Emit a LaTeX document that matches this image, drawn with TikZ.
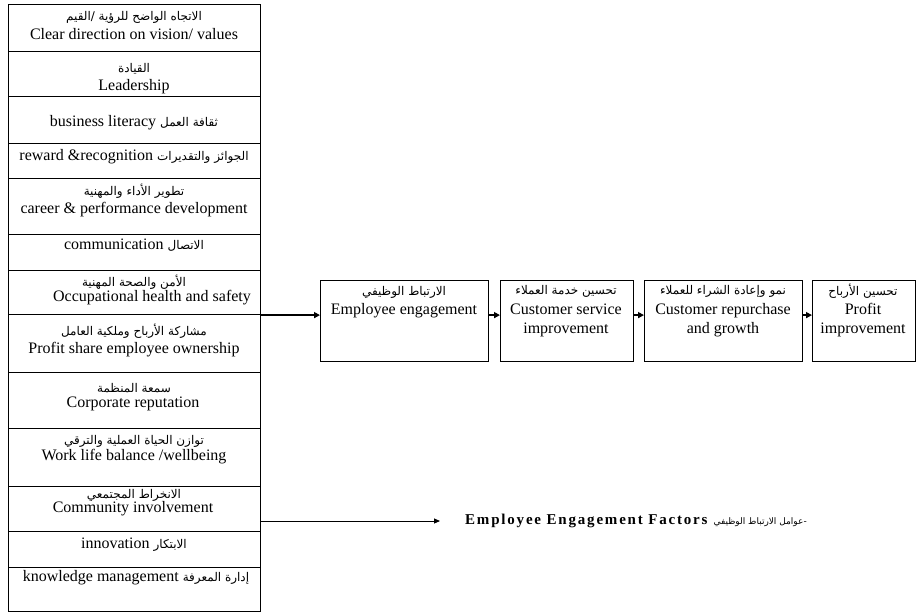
\documentclass[tikz,border=0pt]{standalone}
\usepackage{fontspec}
\setmainfont{Liberation Serif}
\newfontfamily\arfont[Script=Arabic]{DejaVu Sans}
\TeXXeTstate=1
\usetikzlibrary{arrows.meta}
\newcommand\AR[1]{{\arfont\fontsize{12}{13}\selectfont\beginR #1\endR}}
\begin{document}
\begin{tikzpicture}[x=1pt,y=-1pt,
  rowbox/.style={draw, line width=1.1pt, minimum width=252pt, inner sep=0pt, anchor=north west},
  en/.style={font=\fontsize{16}{19}\selectfont, inner sep=0pt},
  arl/.style={inner sep=0pt},
  box/.style={draw, line width=1.2pt, minimum height=81pt, inner sep=0pt, anchor=north west},
  bigarr/.style={-{Triangle[length=6pt,width=6pt]}, line width=1.6pt},
  thinarr/.style={-{Triangle[length=6pt,width=5pt]}, line width=0.9pt}]
\useasboundingbox (0,0) rectangle (917,612);
% left column rows
\node[rowbox, minimum height=47pt] (r1) at (8,4) {};
\node[rowbox, minimum height=45pt] (r2) at (8,51) {};
\node[rowbox, minimum height=47pt] (r3) at (8,96) {};
\node[rowbox, minimum height=35pt] (r4) at (8,143) {};
\node[rowbox, minimum height=56pt] (r5) at (8,178) {};
\node[rowbox, minimum height=36pt] (r6) at (8,234) {};
\node[rowbox, minimum height=44pt] (r7) at (8,270) {};
\node[rowbox, minimum height=58pt] (r8) at (8,314) {};
\node[rowbox, minimum height=56pt] (r9) at (8,372) {};
\node[rowbox, minimum height=58pt] (r10) at (8,428) {};
\node[rowbox, minimum height=45pt] (r11) at (8,486) {};
\node[rowbox, minimum height=36pt] (r12) at (8,531) {};
\node[rowbox, minimum height=44pt] (r13) at (8,567) {};
% row texts
\node[arl] (a1) at (134,17) {\AR{الاتجاه الواضح للرؤية /القيم}};
\node[en] (e1) at (134,34) {Clear direction on vision/ values};
\node[arl] (a2) at (134,69) {\AR{القيادة}};
\node[en] (e2) at (134,87) {Leadership};
\node[en] (e3) at (134,123) {business literacy \AR{ثقافة العمل}};
\node[en] (e4) at (134,157) {reward \&recognition \AR{الجوائز والتقديرات}};
\node[arl] (a5) at (134,191) {\AR{تطوير الأداء والمهنية}};
\node[en] (e5) at (134,210) {career \& performance development};
\node[en] (e6) at (134,245) {communication \AR{الاتصال}};
\node[arl] (a7) at (134,282) {\AR{الأمن والصحة المهنية}};
\node[en] (e7) at (152,298) {Occupational health and safety};
\node[arl] (a8) at (134,331) {\AR{مشاركة الأرباح وملكية العامل}};
\node[en] (e8) at (134,350) {Profit share employee ownership};
\node[arl] (a9) at (134,388) {\AR{سمعة المنظمة}};
\node[en] (e9) at (133,404) {Corporate reputation};
\node[arl] (a10) at (134,441) {\AR{توازن الحياة العملية والترقي}};
\node[en] (e10) at (134,457) {Work life balance /wellbeing};
\node[arl] (a11) at (134,495) {\AR{الانخراط المجتمعي}};
\node[en] (e11) at (133,509) {Community involvement};
\node[en] (e12) at (134,545) {innovation \AR{الابتكار}};
\node[en] (e13) at (136,578) {knowledge management \AR{إدارة المعرفة}};
% chain boxes
\node[box, minimum width=168pt] (b1) at (320,280) {};
\node[box, minimum width=133pt] (b2) at (500,280) {};
\node[box, minimum width=158pt] (b3) at (644,280) {};
\node[box, minimum width=103pt] (b4) at (812,280) {};
\node[arl] (ba1) at (404,292) {\AR{الارتباط الوظيفي}};
\node[en] (be1) at (404,311) {Employee engagement};
\node[arl] (ba2) at (566,291) {\AR{تحسين خدمة العملاء}};
\node[en, align=center] (be2) at (566,320) {Customer service\\improvement};
\node[arl] (ba3) at (723,291) {\AR{نمو وإعادة الشراء للعملاء}};
\node[en, align=center] (be3) at (723,320) {Customer repurchase\\and growth};
\node[arl] (ba4) at (863,291) {\AR{تحسين الأرباح}};
\node[en, align=center] (be4) at (863,320) {Profit\\improvement};
% connectors
\coordinate (src) at (r7.south east);
\draw[bigarr] (src) -- (b1.west |- src);
\draw[bigarr] (b1.east |- src) -- (b2.west |- src);
\draw[bigarr] (b2.east |- src) -- (b3.west |- src);
\draw[bigarr] (b3.east |- src) -- (b4.west |- src);
\coordinate (fe) at (440,521);
\draw[thinarr] (r11.east |- fe) -- (fe);
\node[anchor=west, inner sep=0pt, font=\fontsize{15}{17}\selectfont\bfseries\addfontfeature{LetterSpace=12}] (lbl) at (465,521) {Employee Engagement Factors\hspace{6pt}{\arfont\fontsize{9}{10}\selectfont\mdseries\beginR -عوامل الارتباط الوظيفي\endR}};
\end{tikzpicture}
\end{document}
